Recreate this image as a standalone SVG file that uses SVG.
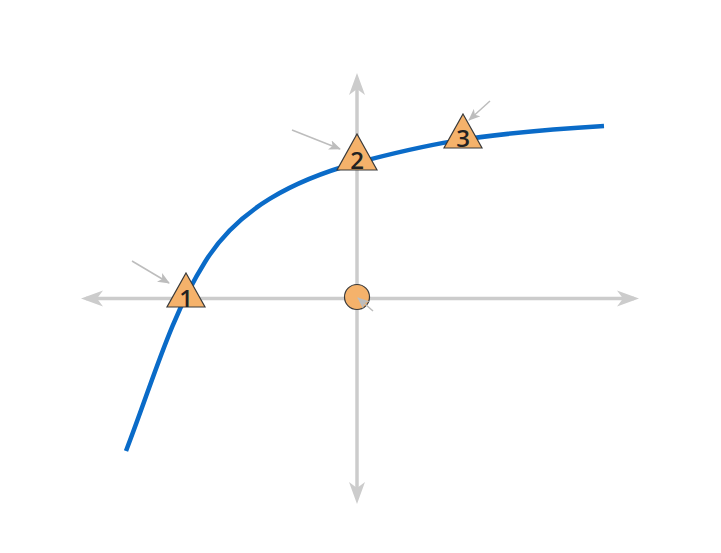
<svg xmlns="http://www.w3.org/2000/svg" width="721" height="553" viewBox="0 0 721 553">
<style>
.axis{stroke:#cccccc;stroke-width:3.5;fill:none}
.axhead{fill:#cccccc}
.curve{stroke:#0a6bc8;stroke-width:4.5;fill:none;stroke-linecap:butt}
.ptr{stroke:#bdbdbd;stroke-width:1.5;fill:none}
.mk{fill:#f5b26b;stroke:#3a3a3a;stroke-width:1.2;stroke-linejoin:miter}
.lbl{font-family:"Open Sans","DejaVu Sans",sans-serif;font-size:24px;font-weight:600;fill:#222222;text-anchor:middle}
</style>
<defs>
<marker id="ph" viewBox="0 0 12 10" refX="11" refY="5" markerWidth="12" markerHeight="10" markerUnits="userSpaceOnUse" orient="auto">
<path d="M0,0 L12,5 L0,10 L3,5 Z" fill="#bdbdbd"/>
</marker>
</defs>
<rect width="721" height="553" fill="#ffffff"/>
<g id="axes">
<line class="axis" x1="86" y1="298.5" x2="634" y2="298.5"/>
<line class="axis" x1="357" y1="78" x2="357" y2="498"/>
<path class="axhead" d="M639,298.5 L617,290.5 L623,298.5 L617,306.5 Z"/>
<path class="axhead" d="M81,298.5 L103,290.5 L97,298.5 L103,306.5 Z"/>
<path class="axhead" d="M357,73 L349,95 L357,89 L365,95 Z"/>
<path class="axhead" d="M357,504 L349,482 L357,488 L365,482 Z"/>
</g>
<g id="curve">
<path class="curve" d="M126,451 C154,378 170,318 205,262 C238,208 295,180 356,163 C420,146 470,134 604,126"/>
</g>
<g id="node-origin">
<circle class="mk" cx="357" cy="297" r="12.5"/>
</g>
<g id="node-1">
<path class="mk" d="M186,273 L205,307 L167,307 Z"/>
<text class="lbl" x="186" y="307">1</text>
</g>
<g id="node-2">
<path class="mk" d="M357,134 L377,170 L337,170 Z"/>
<text class="lbl" x="357" y="169">2</text>
</g>
<g id="node-3">
<path class="mk" d="M463,114 L482,148 L444,148 Z"/>
<text class="lbl" x="463" y="147">3</text>
</g>
<g id="connectors">
<line class="ptr" x1="132" y1="261" x2="169" y2="283" marker-end="url(#ph)"/>
<line class="ptr" x1="292" y1="130" x2="340" y2="149" marker-end="url(#ph)"/>
<line class="ptr" x1="490" y1="101" x2="469" y2="120" marker-end="url(#ph)"/>
<line class="ptr" x1="373" y1="311" x2="358" y2="298" marker-end="url(#ph)"/>
</g>
</svg>
